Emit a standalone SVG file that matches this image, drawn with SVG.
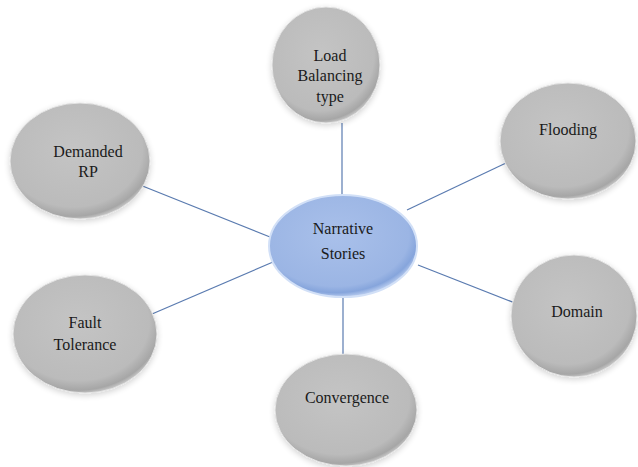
<svg xmlns="http://www.w3.org/2000/svg" width="638" height="467" viewBox="0 0 638 467">
<defs>
<radialGradient id="gray" cx="0.45" cy="0.4" r="0.62">
<stop offset="0" stop-color="#c4c4c4"/>
<stop offset="0.8" stop-color="#bbbbbb"/>
<stop offset="0.93" stop-color="#a6a6a6"/>
<stop offset="1" stop-color="#d6d6d6"/>
</radialGradient>
<radialGradient id="blue" cx="0.45" cy="0.4" r="0.62">
<stop offset="0" stop-color="#a9c0ea"/>
<stop offset="0.8" stop-color="#9bb5e4"/>
<stop offset="0.9" stop-color="#86a5dc"/>
<stop offset="1" stop-color="#c9d9f5"/>
</radialGradient>
<filter id="sh" x="-20%" y="-20%" width="140%" height="140%">
<feGaussianBlur in="SourceAlpha" stdDeviation="3"/>
<feOffset dx="0" dy="2"/>
<feComponentTransfer><feFuncA type="linear" slope="0.18"/></feComponentTransfer>
<feMerge><feMergeNode/><feMergeNode in="SourceGraphic"/></feMerge>
</filter>
</defs>
<style>
.n{fill:url(#gray);filter:url(#sh);stroke:#e4e4e4;stroke-width:1}
.c{fill:url(#blue);stroke:#d2e0f7;stroke-width:2}
.t{font-size:16px;fill:#1a1a1a;text-anchor:middle}
.e{stroke:#5a7bb0;stroke-width:1.2;fill:none}
</style>
<g id="connectors">
<line class="e" x1="342" y1="123" x2="342" y2="196"/>
<line class="e" x1="407" y1="210" x2="506" y2="163"/>
<line class="e" x1="140" y1="185" x2="270" y2="237"/>
<line class="e" x1="152" y1="314" x2="273" y2="262"/>
<line class="e" x1="418" y1="265" x2="515" y2="303"/>
<line class="e" x1="343" y1="297" x2="343" y2="354"/>
</g>
<g font-family="Liberation Serif, Times New Roman, DejaVu Serif, serif">
<g id="node-load">
<ellipse class="n" cx="326" cy="65" rx="54" ry="58"/>
<text class="t" x="330" y="61">Load</text>
<text class="t" x="330" y="81">Balancing</text>
<text class="t" x="330" y="102">type</text>
</g>
<g id="node-flooding">
<ellipse class="n" cx="568" cy="141" rx="68" ry="58"/>
<text class="t" x="568" y="135">Flooding</text>
</g>
<g id="node-demanded">
<ellipse class="n" cx="80" cy="161" rx="70" ry="58"/>
<text class="t" x="88" y="157">Demanded</text>
<text class="t" x="88" y="177">RP</text>
</g>
<g id="node-fault">
<ellipse class="n" cx="85" cy="334" rx="72" ry="59"/>
<text class="t" x="85" y="328">Fault</text>
<text class="t" x="85" y="350">Tolerance</text>
</g>
<g id="node-domain">
<ellipse class="n" cx="574" cy="316" rx="63" ry="61"/>
<text class="t" x="577" y="317">Domain</text>
</g>
<g id="node-convergence">
<ellipse class="n" cx="346" cy="410" rx="71" ry="56"/>
<text class="t" x="347" y="403">Convergence</text>
</g>
<g id="node-center">
<ellipse class="c" cx="343" cy="246" rx="74" ry="51"/>
<text class="t" x="343" y="234">Narrative</text>
<text class="t" x="343" y="259">Stories</text>
</g>
</g>
</svg>
